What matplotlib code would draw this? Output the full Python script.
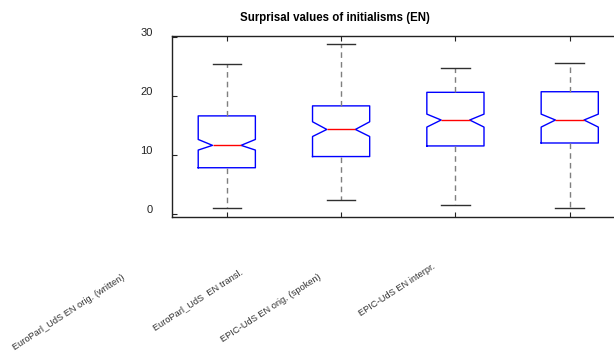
import matplotlib
matplotlib.use("Agg")
import matplotlib.pyplot as plt
import matplotlib.transforms as mtransforms

plt.rcParams['font.family'] = ['Liberation Sans', 'DejaVu Sans']

# corpora and box statistics
corpora = ['EuroParl_UdS EN orig. (written)', 'EuroParl_UdS  EN transl.',
           'EPIC-UdS EN orig. (spoken)', 'EPIC-UdS EN interpr.']
whislo = [1.0, 2.4, 1.4, 1.0]
q1 = [7.8, 9.7, 11.5, 12.0]
med = [11.6, 14.3, 15.9, 15.9]
q3 = [16.6, 18.3, 20.6, 20.7]
whishi = [25.4, 28.8, 24.7, 25.6]
cilo = [10.8, 13.1, 14.7, 14.7]
cihi = [12.6, 15.6, 16.9, 16.9]

# pixel offsets of the rotated tick labels (matlab-ish placement)
label_dx = [-101, -97, -133, -133]
label_dy = [-56, -51, -56, -45]

stats = []
for i, name in enumerate(corpora):
    stats.append(dict(label=name, whislo=whislo[i], q1=q1[i], med=med[i],
                      q3=q3[i], whishi=whishi[i], cilo=cilo[i], cihi=cihi[i],
                      fliers=[]))

fig = plt.figure(figsize=(6.14, 3.54), dpi=100)
ax = fig.add_axes([0.280, 0.388, 0.741, 0.511])

ax.bxp(stats, positions=[1, 2, 3, 4], widths=0.5, shownotches=True,
       showfliers=False,
       boxprops=dict(color='blue', linewidth=1.0),
       medianprops=dict(color='red', linewidth=1.0),
       whiskerprops=dict(color='#7f7f7f', linestyle=(0, (4, 3)), linewidth=1.0),
       capprops=dict(color='#303030', linewidth=1.0))

ax.set_xlim(0.52, 4.5)
ax.set_ylim(-0.5, 30.2)
ax.set_yticks([0, 10, 20, 30])
ax.set_xticks([1, 2, 3, 4])
ax.set_xticklabels([])
ax.tick_params(direction='in', top=True, right=True, length=3.5, width=0.8,
               colors='#222222', labelsize=8, pad=14)
for sp in ax.spines.values():
    sp.set_linewidth(1.0)
    sp.set_color('#222222')

# matlab puts the y labels a bit above the ticks
shift = mtransforms.ScaledTranslation(0, 4.5 / 100, fig.dpi_scale_trans)
for lab in ax.get_yticklabels():
    lab.set_transform(lab.get_transform() + shift)

for i, name in enumerate(corpora):
    ax.annotate(name, xy=(i + 1, 0), xycoords=('data', 'axes fraction'),
                xytext=(label_dx[i], label_dy[i]), textcoords='offset pixels',
                rotation=33, ha='right', va='top', fontsize=6.7, color='#333333')

fig.text(335 / 614, 1 - 18 / 354, 'Surprisal values of initialisms (EN)',
         ha='center', va='center', fontsize=8.3, fontweight='bold')

fig.savefig('out.png', dpi=100)
